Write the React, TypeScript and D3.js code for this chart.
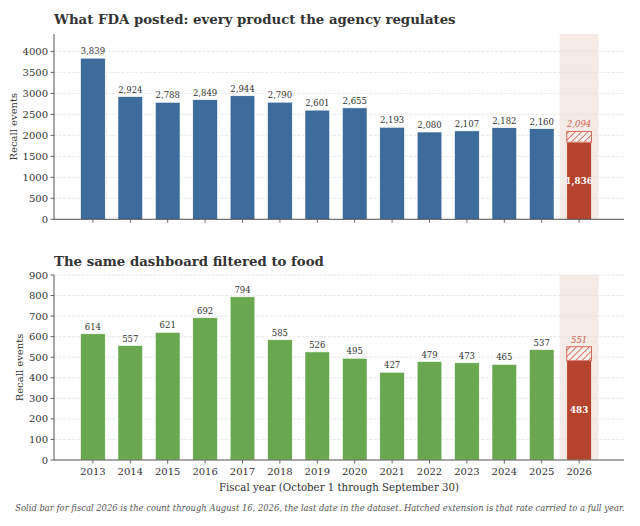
import React from "react";
import * as d3 from "d3";

const years = [2013, 2014, 2015, 2016, 2017, 2018, 2019, 2020, 2021, 2022, 2023, 2024, 2025, 2026];
const allProducts = [3839, 2924, 2788, 2849, 2944, 2790, 2601, 2655, 2193, 2080, 2107, 2182, 2160, 1836];
const allProjected = 2094;
const food = [614, 557, 621, 692, 794, 585, 526, 495, 427, 479, 473, 465, 537, 483];
const foodProjected = 551;
const topTicks = [0, 500, 1000, 1500, 2000, 2500, 3000, 3500, 4000];
const bottomTicks = [0, 100, 200, 300, 400, 500, 600, 700, 800, 900];

const FONT = "'DejaVu Serif', serif";
const TEXT = "#333333";
const RED = "#b5442e";
const HATCH_RED = "#d0604f";

const W = 640;
const H = 526;
const left = 54;
const right = 624;

const x = d3.scaleLinear().domain([2011.96, 2027.2]).range([left, right]);
const barW = x(2013.66) - x(2013);

type PanelProps = {
  values: number[];
  projected: number;
  ticks: number[];
  yMax: number;
  top: number;
  bottom: number;
  color: string;
  title: string;
  titleY: number;
  labelX: number;
  showYears: boolean;
  id: string;
};

function Panel(p: PanelProps) {
  const y = d3.scaleLinear().domain([0, p.yMax]).range([p.bottom, p.top]);
  const fmt = d3.format(",");
  const last = p.values.length - 1;
  return (
    <g>
      <defs>
        <pattern id={p.id} patternUnits="userSpaceOnUse" width={4.5} height={4.5} patternTransform="rotate(45)">
          <rect width={4.5} height={4.5} fill="#fbf1ee" />
          <line x1={0} y1={0} x2={0} y2={4.5} stroke={HATCH_RED} strokeWidth={1.7} />
        </pattern>
      </defs>
      <text x={left} y={p.titleY} fontFamily={FONT} fontWeight="bold" fontSize={13.3} fill={TEXT}>
        {p.title}
      </text>
      <rect x={x(2025.48)} y={p.top} width={x(2026.52) - x(2025.48)} height={p.bottom - p.top} fill="#f4ebe6" />
      {p.ticks.map((t) => (
        <line key={t} x1={left} x2={right} y1={y(t)} y2={y(t)} stroke="#e3e3e3" strokeWidth={0.8} strokeDasharray="3,1.5" />
      ))}
      {p.values.map((v, i) => {
        const yr = years[i];
        const isLast = i === last;
        return (
          <g key={yr}>
            <rect
              x={x(yr) - barW / 2}
              y={y(v)}
              width={barW}
              height={p.bottom - y(v)}
              fill={isLast ? RED : p.color}
              stroke="#ffffff"
              strokeWidth={0.6}
            />
            {!isLast && (
              <text x={x(yr)} y={y(v) - 4} textAnchor="middle" fontFamily={FONT} fontSize={8.5} fill={TEXT}>
                {fmt(v)}
              </text>
            )}
          </g>
        );
      })}
      <rect
        x={x(2026) - barW / 2}
        y={y(p.projected)}
        width={barW}
        height={y(p.values[last]) - y(p.projected)}
        fill={`url(#${p.id})`}
        stroke={HATCH_RED}
        strokeWidth={0.9}
      />
      <text x={x(2026)} y={y(p.projected) - 4} textAnchor="middle" fontFamily={FONT} fontStyle="italic" fontSize={8.5} fill={HATCH_RED}>
        {fmt(p.projected)}
      </text>
      <text
        x={x(2026)}
        y={y(p.values[last] / 2)}
        dy="0.35em"
        textAnchor="middle"
        fontFamily={FONT}
        fontWeight="bold"
        fontSize={8.8}
        fill="#ffffff"
      >
        {fmt(p.values[last])}
      </text>
      <line x1={left} x2={left} y1={p.top} y2={p.bottom} stroke="#444" strokeWidth={0.9} />
      <line x1={left} x2={right} y1={p.bottom} y2={p.bottom} stroke="#444" strokeWidth={0.9} />
      {p.ticks.map((t) => (
        <g key={"yt" + t}>
          <line x1={left - 3.5} x2={left} y1={y(t)} y2={y(t)} stroke="#444" strokeWidth={0.8} />
          <text x={left - 6} y={y(t)} dy="0.35em" textAnchor="end" fontFamily={FONT} fontSize={10} fill={TEXT}>
            {t}
          </text>
        </g>
      ))}
      {years.map((yr) => (
        <g key={"xt" + yr}>
          <line x1={x(yr)} x2={x(yr)} y1={p.bottom} y2={p.bottom + 3.5} stroke="#444" strokeWidth={0.8} />
          {p.showYears && (
            <text x={x(yr)} y={p.bottom + 15} textAnchor="middle" fontFamily={FONT} fontSize={10} fill={TEXT}>
              {yr}
            </text>
          )}
        </g>
      ))}
      <text
        transform={`translate(${p.labelX},${(p.top + p.bottom) / 2}) rotate(-90)`}
        textAnchor="middle"
        dy="0.35em"
        fontFamily={FONT}
        fontSize={10}
        fill={TEXT}
      >
        Recall events
      </text>
    </g>
  );
}

export default function App() {
  return (
    <svg
      width={W}
      height={H}
      viewBox={`0 0 ${W} ${H}`}
      style={{ position: "absolute", left: 0, top: 0, background: "#ffffff" }}
    >
      <rect width={W} height={H} fill="#ffffff" />
      <Panel
        id="hatchTop"
        values={allProducts}
        projected={allProjected}
        ticks={topTicks}
        yMax={4415}
        top={34}
        bottom={219.3}
        color="#3d6b9b"
        title="What FDA posted: every product the agency regulates"
        titleY={24}
        labelX={13}
        showYears={false}
      />
      <Panel
        id="hatchBottom"
        values={food}
        projected={foodProjected}
        ticks={bottomTicks}
        yMax={900}
        top={275}
        bottom={460}
        color="#6aa84f"
        title="The same dashboard filtered to food"
        titleY={266}
        labelX={19}
        showYears={true}
      />
      <text x={339} y={491} textAnchor="middle" fontFamily={FONT} fontSize={10.2} fill={TEXT}>
        Fiscal year (October 1 through September 30)
      </text>
      <text x={320} y={511} textAnchor="middle" fontFamily={FONT} fontStyle="italic" fontSize={8.4} fill="#555555">
        Solid bar for fiscal 2026 is the count through August 16, 2026, the last date in the dataset. Hatched extension is that rate carried to a full year.
      </text>
    </svg>
  );
}
